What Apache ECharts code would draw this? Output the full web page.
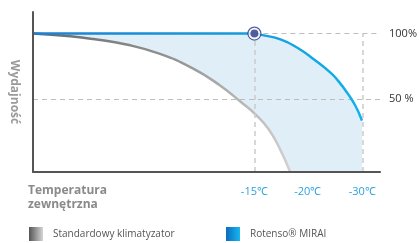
<!DOCTYPE html>
<html>
<head>
<meta charset="utf-8">
<script src="https://cdn.jsdelivr.net/npm/echarts@6/dist/echarts.min.js"></script>
<style>html,body{margin:0;padding:0;background:#fff}#c{width:420px;height:243px}</style>
</head>
<body>
<div id="c"></div>
<script>
// Position along the temperature axis (0..100, arbitrary units) and efficiency (%)
var standardCurve = [[0,100],[10.8,97.9],[17.4,95.8],[26.9,91.6],[36.4,84.6],[45.9,73.5],[53.5,61.0],[60.1,47.2],[63.9,38.6],[67.7,27.5],[71.0,12.5],[74.1,-6]];
var miraiCurve = [[0,100],[60,100],[63.8,100],[65.8,99.0],[71.5,95.4],[76.3,88.9],[80.9,80.3],[85.8,69.9],[88.0,63.6],[90.5,54.8],[92.9,44.7],[94.8,33.3]];
var miraiPoint = [[63.8,100]];
var tickPositions = [63.8, 79.2, 94.9];
var tickLabels = ['-15℃', '-20℃', '-30℃'];
var yTickValues = [50, 100];
var yTickLabels = ['50 %', '100%'];
var dashedV = [63.8, 94.9];

var FONT = 'Open Sans';
var grayGrad = new echarts.graphic.LinearGradient(0,0,1,0,[{offset:0,color:'#666666'},{offset:0.6,color:'#999999'},{offset:1,color:'#d2d2d2'}]);
var blueGrad = new echarts.graphic.LinearGradient(0,0,1,0,[{offset:0,color:'#1e80d2'},{offset:0.6,color:'#1699dd'},{offset:1,color:'#10b2ec'}]);
var grayIcon = new echarts.graphic.LinearGradient(0,0,1,0,[{offset:0,color:'#555'},{offset:1,color:'#d5d5d5'}]);
var blueIcon = new echarts.graphic.LinearGradient(0,0,1,0,[{offset:0,color:'#0a6cc0'},{offset:1,color:'#19b6ee'}]);

var chart = echarts.init(document.getElementById('c'), null, {renderer:'canvas'});
chart.setOption({
  animation: false,
  textStyle: {fontFamily: FONT},
  grid: {left: 29, right: 39, top: 12, bottom: 71},
  title: {
    text: 'Temperatura\nzewnętrzna', left: 28, top: 184, padding: 0,
    textStyle: {fontFamily: FONT, fontSize: 12, fontWeight: 'bold', color: '#8a8a8a', lineHeight: 14}
  },
  legend: [
    {left: 29, top: 227, padding: 0, itemWidth: 14, itemHeight: 14, selectedMode: false,
     textStyle: {fontFamily: FONT, fontSize: 10, color: '#555', padding: [0,0,0,5]},
     data: [{name: 'Standardowy klimatyzator', icon: 'rect', itemStyle: {color: grayIcon}}]},
    {left: 226, top: 227, padding: 0, itemWidth: 14, itemHeight: 14, selectedMode: false,
     textStyle: {fontFamily: FONT, fontSize: 10, color: '#555', padding: [0,0,0,5]},
     data: [{name: 'Rotenso® MIRAI', icon: 'rect', itemStyle: {color: blueIcon}}]}
  ],
  xAxis: {
    type: 'value', min: 0, max: 100, z: 10,
    axisLine: {show: true, onZero: false, lineStyle: {color: '#555', width: 2}},
    axisTick: {show: false},
    splitLine: {show: false},
    axisLabel: {
      customValues: tickPositions, margin: 14,
      fontFamily: FONT, fontSize: 11, color: '#2aa3df',
      formatter: function (v) { var i = tickPositions.indexOf(v); return i >= 0 ? tickLabels[i] : ''; }
    }
  },
  yAxis: [
    {type: 'value', min: -6, max: 116.5, position: 'left', z: 10,
     name: 'Wydajność', nameLocation: 'middle', nameGap: 13, nameRotate: -90,
     nameTextStyle: {fontFamily: FONT, fontSize: 12, fontWeight: 'bold', color: '#9a9a9a'},
     axisLine: {show: true, onZero: false, lineStyle: {color: '#555', width: 2}},
     axisTick: {show: false}, axisLabel: {show: false}, splitLine: {show: false}},
    {type: 'value', min: -6, max: 116.5, position: 'right',
     axisLine: {show: false}, axisTick: {show: false}, splitLine: {show: false},
     axisLabel: {customValues: yTickValues, margin: 9, fontFamily: FONT, fontSize: 11, color: '#333',
       formatter: function (v) { var i = yTickValues.indexOf(v); return i >= 0 ? yTickLabels[i] : ''; }}}
  ],
  series: [
    {type: 'line', name: 'fill', data: miraiCurve, smooth: 0.5, symbol: 'none', z: 1,
     lineStyle: {width: 0}, areaStyle: {color: '#dfeef7', opacity: 1, origin: 'start'}, silent: true},
    {type: 'line', name: 'Standardowy klimatyzator', data: standardCurve, smooth: 0.5, symbol: 'none', z: 2,
     itemStyle: {color: '#999'},
     lineStyle: {width: 2.5, color: grayGrad}, areaStyle: {color: '#ffffff', opacity: 1, origin: 'start'},
     markLine: {
       silent: true, symbol: 'none', label: {show: false},
       lineStyle: {type: [5, 4], color: '#bdbdbd', width: 1},
       data: [
         [{coord: [63.8, 100]}, {coord: [100, 100]}],
         [{coord: [0, 50]}, {coord: [100, 50]}],
         [{coord: [dashedV[0], -6], lineStyle: {width: 1.5, color: '#cccccc'}}, {coord: [dashedV[0], 100]}],
         [{coord: [dashedV[1], -6], lineStyle: {width: 1.5, color: '#cccccc'}}, {coord: [dashedV[1], 100]}]
       ]
     }},
    {type: 'line', name: 'Rotenso® MIRAI', data: miraiCurve, smooth: 0.5, symbol: 'none', z: 6,
     itemStyle: {color: '#14a8e6'},
     lineStyle: {width: 2.5, color: blueGrad}},
    {type: 'scatter', name: 'ring', data: miraiPoint, symbolSize: 13, z: 7, silent: true,
     itemStyle: {color: '#ffffff', borderColor: '#2b3784', borderWidth: 1.2}},
    {type: 'scatter', name: 'dot', data: miraiPoint, symbolSize: 8, z: 8, silent: true,
     itemStyle: {color: '#2b3784'}}
  ]
});
</script>
</body>
</html>
